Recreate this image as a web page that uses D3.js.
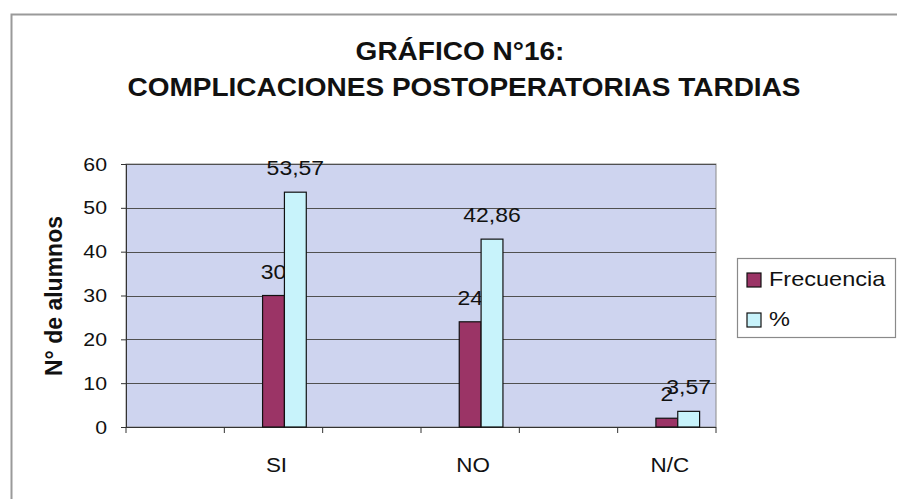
<!DOCTYPE html>
<html>
<head>
<meta charset="utf-8">
<script src="https://cdn.jsdelivr.net/npm/d3@7"></script>
<style>
	body { margin: 0; background: #fff; }
	text { font-family: Arial, "Liberation Sans", sans-serif; fill: #111; }
</style>
</head>
<body>
<svg id="chart" width="897" height="499"></svg>
<script>
//chart values
var categories = ["SI", "NO", "N/C"];
var frecuencia = [30, 24, 2];
var porcentaje = [53.57, 42.86, 3.57];
var seriesNames = ["Frecuencia", "%"];
var yTicks = [0, 10, 20, 30, 40, 50, 60];

var colors = {"Frecuencia": "#9b3466", "%": "#c8f3fb"};
var stretchX = 1.12; //picture is a bit wider than the fonts

var svg = d3.select("#chart");

//the scan is squeezed, so text gets widened a bit
function stretch(sel, s){
	sel.each(function(){
		var len = this.getComputedTextLength();
		d3.select(this)
		.attr("textLength", len * s)
		.attr("lengthAdjust", "spacingAndGlyphs");
	});
}

//outer frame (only top and left show)
svg.append("path")
.attr("d", "M11.5,499 V14.5 H897")
.attr("fill", "none")
.attr("stroke", "#9a9a9a")
.attr("stroke-width", 2);

var plot = {left: 126, right: 716, top: 164, bottom: 427};

//x: every category sits in every second slot
var slotScale = d3.scaleBand()
.domain(d3.range(categories.length * 2))
.range([plot.left, plot.right]);

var subScale = d3.scaleBand()
.domain(["", "Frecuencia", "%"])
.range([0, slotScale.bandwidth()])
.paddingInner(0)
.paddingOuter(0.75);

var y = d3.scaleLinear()
.domain([0, 60])
.range([plot.bottom, plot.top]);

//plot area
svg.append("rect")
.attr("x", plot.left)
.attr("y", plot.top)
.attr("width", plot.right - plot.left)
.attr("height", plot.bottom - plot.top)
.attr("fill", "#ced4ef")
.attr("stroke", "#8a8a8a")
.attr("stroke-width", 1);

//gridlines
svg.append("g")
.selectAll("line")
.data(yTicks.slice(1))
.enter()
.append("line")
.attr("x1", plot.left)
.attr("x2", plot.right)
.attr("y1", function(d){ return Math.round(y(d)) + 0.5; })
.attr("y2", function(d){ return Math.round(y(d)) + 0.5; })
.attr("stroke", "#505050")
.attr("stroke-width", 1);

//y axis
var yAxis = d3.axisLeft(y)
.tickValues(yTicks)
.tickSize(5)
.tickPadding(14);

var yG = svg.append("g")
.attr("transform", "translate(" + plot.left + ",0)")
.call(yAxis);
yG.select(".domain").attr("stroke", "#333");
yG.selectAll(".tick line").attr("stroke", "#333");
yG.selectAll(".tick text")
.style("font-size", "19px")
.attr("fill", "#111")
.call(stretch, stretchX);

//x axis: ticks between slots
var xTicks = d3.range(categories.length * 2 + 1).map(function(i){
	return plot.left + i * slotScale.bandwidth();
});
svg.append("line")
.attr("x1", plot.left)
.attr("x2", plot.right)
.attr("y1", plot.bottom + 0.5)
.attr("y2", plot.bottom + 0.5)
.attr("stroke", "#333");
svg.append("g")
.selectAll("line")
.data(xTicks)
.enter()
.append("line")
.attr("x1", function(d){ return d; })
.attr("x2", function(d){ return d; })
.attr("y1", plot.bottom)
.attr("y2", plot.bottom + 6)
.attr("stroke", "#333");

svg.append("g")
.selectAll("text")
.data(categories)
.enter()
.append("text")
.attr("x", function(d, i){ return slotScale(i * 2 + 1) + slotScale.bandwidth() / 2 + 3; })
.attr("y", 472)
.attr("text-anchor", "middle")
.style("font-size", "20px")
.text(function(d){ return d; })
.call(stretch, stretchX);

//bars and labels, one series after the other (labels get covered by the next series)
var seriesData = {"Frecuencia": frecuencia, "%": porcentaje};
var fmt = function(v){ return String(v).replace(".", ","); };

seriesNames.forEach(function(name){
	var vals = seriesData[name];
	var g = svg.append("g");
	g.selectAll("rect")
	.data(vals)
	.enter()
	.append("rect")
	.attr("x", function(d, i){ return slotScale(i * 2 + 1) + subScale(name); })
	.attr("y", function(d){ return y(d); })
	.attr("width", subScale.bandwidth())
	.attr("height", function(d){ return plot.bottom - y(d); })
	.attr("fill", colors[name])
	.attr("stroke", "#111")
	.attr("stroke-width", 1.2);

	g.selectAll("text")
	.data(vals)
	.enter()
	.append("text")
	.attr("x", function(d, i){ return slotScale(i * 2 + 1) + subScale(name) + subScale.bandwidth() / 2; })
	.attr("y", function(d){ return y(d) - 17; })
	.attr("text-anchor", "middle")
	.style("font-size", "20.5px")
	.text(function(d){ return fmt(d); })
	.call(stretch, stretchX);
});

//title
var title = svg.append("g");
title.append("text")
.attr("x", 460)
.attr("y", 60)
.attr("text-anchor", "middle")
.style("font-size", "25px")
.style("font-weight", "bold")
.text("GRÁFICO N°16:")
.call(stretch, stretchX);
title.append("text")
.attr("x", 464)
.attr("y", 96)
.attr("text-anchor", "middle")
.style("font-size", "25px")
.style("font-weight", "bold")
.text("COMPLICACIONES POSTOPERATORIAS TARDIAS")
.call(stretch, stretchX);

//y axis title
svg.append("text")
.attr("transform", "translate(62,296) rotate(-90)")
.attr("text-anchor", "middle")
.style("font-size", "23px")
.style("font-weight", "bold")
.text("N° de alumnos");

//legend
var legend = svg.append("g");
legend.append("rect")
.attr("x", 737.5)
.attr("y", 258.5)
.attr("width", 158)
.attr("height", 79)
.attr("fill", "#fff")
.attr("stroke", "#8a8a8a")
.attr("stroke-width", 1.2);

var items = legend.selectAll("g.item")
.data(seriesNames)
.enter()
.append("g")
.attr("class", "item")
.attr("transform", function(d, i){ return "translate(747," + (273 + i * 40) + ")"; });

items.append("rect")
.attr("width", 14)
.attr("height", 14)
.attr("fill", function(d){ return colors[d]; })
.attr("stroke", "#111")
.attr("stroke-width", 1.2);

items.append("text")
.attr("x", 22)
.attr("y", 13)
.style("font-size", "21px")
.text(function(d){ return d; })
.call(stretch, stretchX);
</script>
</body>
</html>
